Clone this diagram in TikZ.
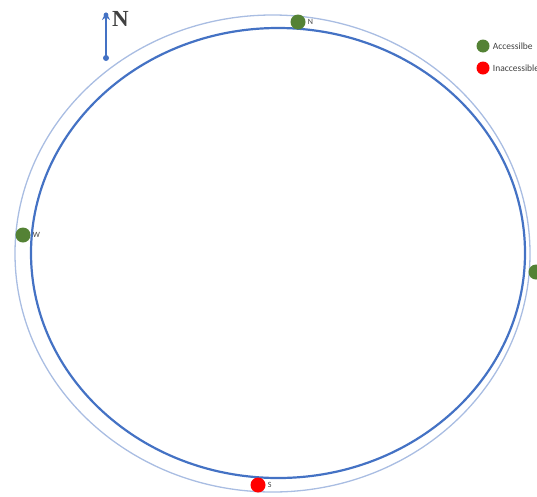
\documentclass[tikz,border=0pt]{standalone}
\usepackage{fontspec}
\setmainfont{Carlito}
\newfontfamily\compassfont{Liberation Serif}
\usetikzlibrary{arrows.meta,positioning}
\definecolor{ringblue}{HTML}{4472C4}
\definecolor{ringpale}{HTML}{A9BDE2}
\definecolor{okgreen}{HTML}{548235}
\definecolor{nored}{HTML}{FF0000}
\definecolor{compassink}{HTML}{404040}

\begin{document}
\begin{tikzpicture}[
  x=1pt,
  y=-1pt,
  every node/.style={font=\fontsize{8}{9}\selectfont, text=compassink},
  access/.style={circle, fill=okgreen, minimum size=15pt, inner sep=0pt},
  noaccess/.style={circle, fill=nored, minimum size=15pt, inner sep=0pt},
  gatelabel/.style={right=1pt, inner sep=1pt},
  keylabel/.style={right=2pt, inner sep=1pt, font=\fontsize{9.5}{10}\selectfont}
]
  \useasboundingbox (0,0) rectangle (537,496);

  % ================= the two rings ======================================
  \draw[ringpale, line width=1.3pt] (272.5,253.5) ellipse [x radius=257.5, y radius=238.5];
  \draw[ringblue, line width=2.2pt] (278,253) ellipse [x radius=247, y radius=225];

  % ================= the gates ==========================================
  \node[access] (gateN) at (298,22) {};
  \node[gatelabel] at (gateN.east) {N};
  \node[access] (gateW) at (23,235) {};
  \node[gatelabel] at (gateW.east) {W};
  \node[access] (gateE) at (536,272) {};
  \node[noaccess] (gateS) at (258,485) {};
  \node[gatelabel] at (gateS.east) {S};

  % ================= the key ============================================
  \node[access, minimum size=13pt] (keyok) at (483,46) {};
  \node[keylabel] at (keyok.east) {Accessilbe};
  \node[noaccess, minimum size=13pt] (keyno) at (483,68) {};
  \node[keylabel] at (keyno.east) {Inaccessible};

  % ================= the north arrow ====================================
  \coordinate (tail) at (106,58);
  \coordinate (head) at (106,12);
  \fill[ringblue] (tail) circle [radius=3];
  \fill[ringblue] (106,15) circle [radius=2.4];
  \draw[ringblue, line width=1.8pt, -{Stealth[length=8pt, width=8pt]}] (tail) -- (head);
  \node[font=\compassfont\bfseries\fontsize{23}{25}\selectfont, anchor=west,
        inner sep=0pt] (north) at (112,19) {N};
\end{tikzpicture}
\end{document}
